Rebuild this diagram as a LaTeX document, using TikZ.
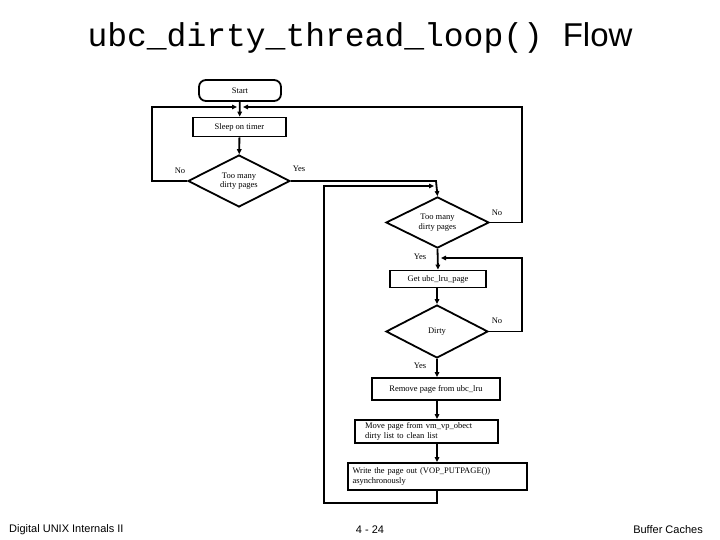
\documentclass[tikz,border=0pt]{standalone}
\usepackage{fontspec}
\setmainfont{Liberation Serif}
\setsansfont{Liberation Sans}
\setmonofont{Liberation Mono}
\usetikzlibrary{shapes.geometric,arrows.meta}
\begin{document}
\begin{tikzpicture}[x=1pt,y=-1pt,
  line width=1.8pt,
  box/.style={draw,rectangle,inner sep=0pt,font=\fontsize{8.5}{9.5}\selectfont},
  dia/.style={draw,diamond,aspect=2,inner sep=0pt,minimum width=102pt,minimum height=52pt,font=\fontsize{8.5}{9.5}\selectfont,align=center},
  lab/.style={font=\fontsize{8.5}{9.5}\selectfont},
  arr/.style={-{Triangle[length=5pt,width=4.5pt]}},
  ft/.style={font=\sffamily\fontsize{11}{12}\selectfont}]
\useasboundingbox (0,0) rectangle (720,540);
\node (title) at (360,38) {\fontsize{33}{35}\selectfont\ttfamily ubc\_dirty\_thread\_loop()\ \sffamily Flow};
\node[box,rounded corners=7pt,minimum width=82pt,minimum height=21pt] (start) at (240,90.5) {Start};
\node[box,minimum width=93pt,minimum height=19pt] (sleep) at (239.5,127) {Sleep on timer};
\node[dia] (d1) at (239,181) {Too many\\dirty pages};
\node[dia,minimum width=103pt,minimum height=51pt] (d2) at (437.5,222.5) {Too many\\dirty pages};
\node[box,minimum width=96pt,minimum height=17pt] (get) at (438,279) {Get ubc\_lru\_page};
\node[dia,minimum width=102pt,minimum height=53pt] (dirty) at (437,331.5) {Dirty};
\node[box,minimum width=128pt,minimum height=22pt] (rem) at (436,389) {Remove page from ubc\_lru};
\node[box,minimum width=143pt,minimum height=23pt,align=left,text width=123pt] (move) at (426.5,431.5) {\raggedright Move page from vm\_vp\_obect\\dirty list to clean list};
\node[box,minimum width=179pt,minimum height=27pt,align=left,text width=170pt] (write) at (437.5,476.5) {\raggedright Write the page out (VOP\_PUTPAGE())\\asynchronously};
\draw[arr] (start) -- (sleep);
\draw[arr] (sleep) -- (d1);
\draw[arr] (d1.west) -- (152,181) -- (152,107) -- (237,107);
\draw[arr] (d2.east) -- (522,222.5) -- (522,107) -- (243,107);
\draw[arr] (d1.east) -- (436,181) -- (d2.north);
\draw[arr] (write.south -| dirty) -- (437,503) -- (324,503) -- (324,186) -- (434,186);
\draw[arr] (d2.south) -- (get.north);
\draw[arr] (dirty.east) -- (522,331.5) -- (522,258) -- (441,258);
\draw[arr] (get.south -| dirty) -- (dirty.north);
\draw[arr] (dirty.south) -- (rem.north -| dirty);
\draw[arr] (rem.south -| dirty) -- (move.north -| dirty);
\draw[arr] (move.south -| dirty) -- (write.north -| dirty);
\node[lab] at (180,171) {No};
\node[lab] at (299,169) {Yes};
\node[lab] at (497,213) {No};
\node[lab] at (420,257) {Yes};
\node[lab] at (497,321) {No};
\node[lab] at (420,366) {Yes};
\node[ft,anchor=west] (f1) at (5,530) {Digital UNIX Internals II};
\node[ft] (f2) at (370,530) {4 - 24};
\node[ft,anchor=east] (f3) at (707,530) {Buffer Caches};
\end{tikzpicture}
\end{document}
